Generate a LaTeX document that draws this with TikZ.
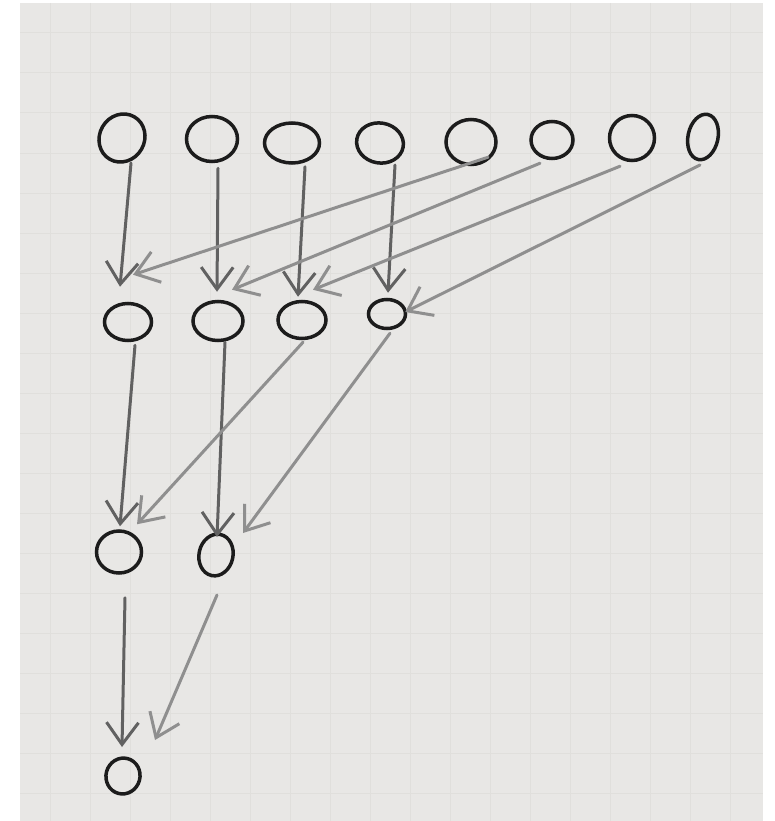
\documentclass[tikz,border=0pt]{standalone}
\usetikzlibrary{arrows.meta,shapes.geometric}
\definecolor{paper}{HTML}{E8E7E5}
\definecolor{paperline}{HTML}{E0DFDC}
\definecolor{lead}{HTML}{1C1C1C}
\definecolor{leadmid}{HTML}{616161}
\definecolor{leadlight}{HTML}{8F8F8F}

\begin{document}
\begin{tikzpicture}[
  x=0.02cm,
  y=-0.02cm,
  dot/.style={ellipse, draw=lead, line width=0.07cm, inner sep=0pt},
  down/.style={leadmid, line width=0.06cm, line cap=round,
    -{Straight Barb[length=0.44cm, width=0.64cm]}},
  cross/.style={down, leadlight},
  grid/.style={paperline, line width=0.02cm}
]
  % ================= the sheet ==========================================
  \useasboundingbox (0,0) rectangle (774,821);
  \fill[paper] (20,3) rectangle (763,821);
  \foreach \gx in {50,90,...,730}
    \draw[grid] (\gx,3) -- (\gx,821);
  \foreach \gy in {33,73,...,813}
    \draw[grid] (20,\gy) -- (763,\gy);

  % ================= the four rows of nodes =============================
  \foreach \n/\x/\y/\w/\h/\r in {t1/122/138/45/49/-30, t2/212/139/51/45/0,
      t3/292/143/55/40/0, t4/380/143/47/40/-10, t5/471/142/50/45/0,
      t6/552/140/42/37/0, t7/632/138/45/45/0, t8/703/137/30/46/-12,
      m1/128/322/47/37/0, m2/218/321/50/39/0, m3/302/320/48/37/0,
      m4/387/314/37/29/0, l1/119/552/45/42/0, l2/216/555/34/42/-12,
      b/123/776/34/36/-15}
    \node[dot, minimum width=\w*0.02cm, minimum height=\h*0.02cm,
      rotate=\r] (\n) at (\x,\y) {};

  % ================= first step: eight to four ==========================
  % tilted nodes are met from their centre, the anchors turn with them
  \draw[down] ([shift={(9,25)}]t1.center) -- ([shift={(-8,-15)}]m1.north);
  \draw[down] ([shift={(6,5)}]t2.south) -- ([shift={(-1,-8)}]m2.north);
  \draw[down] ([shift={(13,2)}]t3.south) -- ([shift={(-4,-3)}]m3.north);
  \draw[down] ([shift={(15,22)}]t4.center) -- ([shift={(1,-5)}]m4.north);

  \draw[cross] ([shift={(17,-9)}]t5.south) -- ([shift={(5,-27)}]m1.north);
  \draw[cross] ([shift={(-12,3)}]t6.south) -- ([shift={(14,-10)}]m2.north);
  \draw[cross] ([shift={(-12,4)}]t7.south) -- ([shift={(11,-10)}]m3.north);
  \draw[cross] ([shift={(-3,28)}]t8.center) -- ([shift={(-2,-2)}]m4.east);

  % ================= second step: four to two ===========================
  \draw[down] ([shift={(7,3)}]m1.south) -- ([shift={(1,-3)}]l1.north);
  \draw[down] ([shift={(7,0)}]m2.south) -- ([shift={(1,-18)}]l2.center);

  \draw[cross] ([shift={(1,2)}]m3.south) -- ([shift={(18,-5)}]l1.north);
  \draw[cross] ([shift={(3,3)}]m4.south) -- ([shift={(27,-22)}]l2.center);

  % ================= last step: two to one ==============================
  \draw[down] ([shift={(6,23)}]l1.south) -- ([shift={(-1,-29)}]b.center);
  \draw[cross] ([shift={(1,40)}]l2.center) -- ([shift={(32,-36)}]b.center);
\end{tikzpicture}
\end{document}
